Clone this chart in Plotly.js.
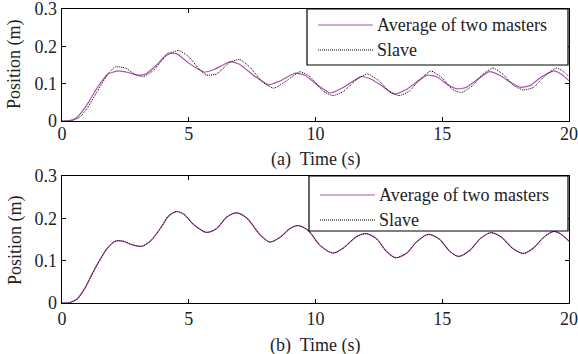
<!DOCTYPE html>
<html>
<head>
<meta charset="utf-8">
<script src="https://cdn.plot.ly/plotly-3.0.1.min.js"></script>
<style>html,body{margin:0;padding:0;background:#fff;}#chart{width:578px;height:354px;}</style>
</head>
<body>
<div id="chart"></div>
<script>
// (a) top panel
var tAvgA = [0,0.3,0.6,1.0,1.4,1.8,2.2,2.6,3.0,3.3,3.7,4.2,4.55,5.0,5.3,5.6,6.0,6.65,7.0,7.6,8.15,8.6,9.2,9.6,10.1,10.6,11.1,11.8,12.2,12.6,13.1,13.6,14.4,14.8,15.2,15.6,15.95,16.85,17.3,17.7,18.1,18.5,18.9,19.4,19.7,20];
var avgA  = [0,0.001,0.01,0.045,0.09,0.125,0.134,0.13,0.123,0.126,0.148,0.182,0.179,0.155,0.142,0.131,0.138,0.159,0.152,0.12,0.097,0.107,0.128,0.122,0.095,0.075,0.09,0.119,0.112,0.095,0.072,0.085,0.123,0.118,0.098,0.086,0.09,0.132,0.121,0.103,0.09,0.096,0.118,0.134,0.125,0.108];
var tSlvA = [0,0.4,0.7,1.0,1.4,1.8,2.1,2.5,2.9,3.2,3.6,4.1,4.6,5.0,5.4,5.7,6.1,6.6,7.0,7.4,7.9,8.35,8.8,9.4,9.8,10.3,10.7,11.1,11.6,12.05,12.5,12.9,13.3,13.7,14.1,14.55,15.0,15.4,15.75,16.2,16.6,17.0,17.4,17.8,18.2,18.6,19.0,19.5,19.8,20];
var slvA  = [0,0.001,0.01,0.035,0.08,0.125,0.145,0.142,0.124,0.119,0.135,0.174,0.189,0.172,0.14,0.123,0.126,0.156,0.165,0.145,0.105,0.088,0.105,0.132,0.118,0.08,0.068,0.079,0.11,0.126,0.108,0.08,0.068,0.08,0.11,0.134,0.115,0.085,0.076,0.095,0.125,0.142,0.125,0.096,0.083,0.09,0.118,0.142,0.132,0.118];
// (b) bottom panel
var tB   = [0,0.3,0.6,0.9,1.2,1.5,1.8,2.1,2.4,2.8,3.15,3.5,3.9,4.2,4.5,4.8,5.2,5.7,6.1,6.5,6.9,7.3,7.8,8.2,8.6,9.0,9.3,9.7,10.2,10.7,11.1,11.6,12.0,12.4,12.8,13.15,13.6,14.0,14.45,14.9,15.3,15.65,16.1,16.5,16.9,17.3,17.8,18.2,18.6,19.0,19.4,19.7,20];
var avgB = [0,0.001,0.01,0.035,0.07,0.103,0.13,0.146,0.146,0.137,0.134,0.147,0.178,0.205,0.216,0.21,0.185,0.167,0.176,0.203,0.213,0.2,0.162,0.144,0.155,0.176,0.183,0.172,0.135,0.118,0.13,0.156,0.164,0.152,0.122,0.107,0.118,0.145,0.162,0.15,0.122,0.11,0.125,0.152,0.166,0.157,0.128,0.117,0.13,0.155,0.169,0.162,0.146];
var slvB = [0,0.001,0.009,0.034,0.069,0.102,0.13,0.146,0.146,0.137,0.134,0.147,0.178,0.205,0.216,0.21,0.185,0.167,0.176,0.203,0.213,0.2,0.162,0.144,0.155,0.176,0.183,0.172,0.135,0.118,0.13,0.156,0.164,0.152,0.122,0.107,0.118,0.145,0.162,0.15,0.122,0.11,0.125,0.152,0.166,0.157,0.128,0.117,0.13,0.155,0.169,0.162,0.146];

var xTicks = [0,5,10,15,20];
var yTicks = [0,0.1,0.2,0.3];
var yTickText = ['0','0.1','0.2','0.3'];
var nameAvg = 'Average of two masters';
var nameSlv = 'Slave';
var xTitleA = '(a)  Time (s)';
var xTitleB = '(b)  Time (s)';
var yTitle = 'Position (m)';

var MAG = '#b050b0';
var FONT = '"Liberation Serif", "Times New Roman", serif';
var TXT = '#222';

// pixel -> paper helpers (plot area: x 62..569, y 9..303)
var L = 62, R = 9, T = 9, B = 51, W = 578, H = 354;
var PW = W - L - R, PH = H - T - B;
function px(x){ return (x - L) / PW; }
function py(y){ return (H - B - y) / PH; }

var traces = [
  {x:tAvgA, y:avgA, name:nameAvg, type:'scatter', mode:'lines', line:{color:MAG, width:1.2, shape:'spline', smoothing:0.5}, xaxis:'x', yaxis:'y', showlegend:false},
  {x:tSlvA, y:slvA, name:nameSlv, type:'scatter', mode:'lines', line:{color:'#000', width:1, dash:'1px,1px', shape:'spline', smoothing:0.5}, xaxis:'x', yaxis:'y', showlegend:false},
  {x:tB, y:avgB, name:nameAvg, type:'scatter', mode:'lines', line:{color:MAG, width:1.2, shape:'spline', smoothing:0.8}, xaxis:'x2', yaxis:'y2', showlegend:false},
  {x:tB, y:slvB, name:nameSlv, type:'scatter', mode:'lines', line:{color:'#000', width:1, dash:'1px,1px', shape:'spline', smoothing:0.8}, xaxis:'x2', yaxis:'y2', showlegend:false}
];

function xax(anchor, standoff){
  return {range:[0,20], tickvals:xTicks, ticks:'inside', ticklen:4, tickcolor:'#000', showline:true, linecolor:'#000', linewidth:1.3, mirror:'ticks', showgrid:false, zeroline:false, anchor:anchor, tickfont:{family:FONT, size:18, color:TXT}, ticklabelstandoff:standoff, ticklabeloverflow:'allow', fixedrange:true};
}
function yax(domain, anchor){
  return {range:[0,0.3], domain:domain, tickvals:yTicks, ticktext:yTickText, ticks:'inside', ticklen:4, tickcolor:'#000', showline:true, linecolor:'#000', linewidth:1.3, mirror:'ticks', showgrid:false, zeroline:false, anchor:anchor, tickfont:{family:FONT, size:18, color:TXT}, ticklabeloverflow:'allow', fixedrange:true};
}

// legend boxes drawn as shapes + text (pixel geometry of the reference)
function legendParts(box, rows){
  var shapes = [
    {type:'rect', xref:'paper', yref:'paper', x0:px(box.x0), x1:px(box.x1), y0:py(box.y1), y1:py(box.y0), line:{color:'#000', width:1.2}, fillcolor:'#fff', layer:'above'},
    {type:'line', xref:'paper', yref:'paper', x0:px(box.lx0), x1:px(box.lx1), y0:py(rows[0]), y1:py(rows[0]), line:{color:MAG, width:1.2}, layer:'above'},
    {type:'line', xref:'paper', yref:'paper', x0:px(box.lx0), x1:px(box.lx1), y0:py(rows[1]), y1:py(rows[1]), line:{color:'#000', width:1, dash:'1px,1px'}, layer:'above'}
  ];
  var ann = [
    {text:nameAvg, xref:'paper', yref:'paper', x:px(box.tx), y:py(rows[0]), xanchor:'left', yanchor:'middle', showarrow:false, font:{family:FONT, size:18, color:TXT}},
    {text:nameSlv, xref:'paper', yref:'paper', x:px(box.tx), y:py(rows[1]), xanchor:'left', yanchor:'middle', showarrow:false, font:{family:FONT, size:18, color:TXT}}
  ];
  return {shapes:shapes, ann:ann};
}
var legA = legendParts({x0:307, x1:568, y0:9, y1:65, lx0:318, lx1:373, tx:375}, [25, 50]);
var legB = legendParts({x0:309, x1:568, y0:176, y1:231, lx0:320, lx1:375, tx:377}, [195, 220]);

var layout = {
  width:W, height:H,
  margin:{l:L, r:R, t:T, b:B},
  paper_bgcolor:'#fff', plot_bgcolor:'#fff',
  showlegend:false,
  xaxis: xax('y', -4),
  yaxis: yax([py(121),1],'x'),
  xaxis2: xax('y2', -1),
  yaxis2: yax([0,py(176)],'x2'),
  shapes: legA.shapes.concat(legB.shapes),
  annotations:[
    {text:xTitleA, xref:'paper', yref:'paper', x:0.5, y:py(159), xanchor:'center', yanchor:'middle', showarrow:false, font:{family:FONT, size:18, color:TXT}},
    {text:xTitleB, xref:'paper', yref:'paper', x:0.5, y:py(345), xanchor:'center', yanchor:'middle', showarrow:false, font:{family:FONT, size:18, color:TXT}},
    {text:yTitle, xref:'paper', yref:'paper', x:px(15), y:py(64), xanchor:'center', yanchor:'middle', textangle:-90, showarrow:false, font:{family:FONT, size:18, color:TXT}},
    {text:yTitle, xref:'paper', yref:'paper', x:px(15), y:py(240), xanchor:'center', yanchor:'middle', textangle:-90, showarrow:false, font:{family:FONT, size:18, color:TXT}}
  ].concat(legA.ann, legB.ann)
};

Plotly.newPlot('chart', traces, layout, {staticPlot:true, displayModeBar:false});
</script>
</body>
</html>
